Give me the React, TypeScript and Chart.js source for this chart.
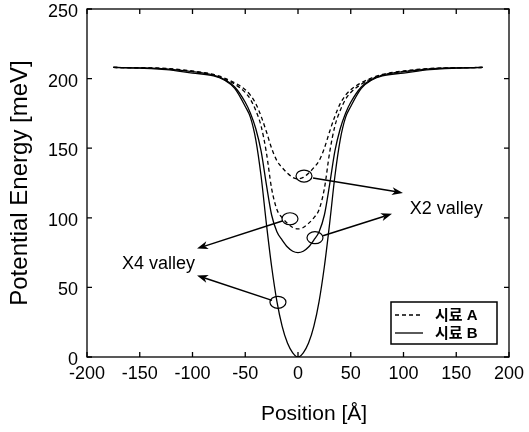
import React, { useEffect, useRef } from "react";
import { Chart, registerables } from "chart.js";

Chart.register(...registerables);

// ---------- data ----------
const positions = [
  -175, -150, -125, -100, -80, -70, -60, -50, -45, -40, -35, -30, -25, -20, -15, -10, -5,
  0,
  5, 10, 15, 20, 25, 30, 35, 40, 45, 50, 60, 70, 80, 100, 125, 150, 175,
];
// 시료 A (dashed)
const sampleA_X2 = [
  208, 207.8, 207.3, 205.5, 203, 200.5, 197, 192, 188, 182, 173, 162, 150, 141, 136, 132, 129,
  128,
  129, 132, 136, 141, 150, 162, 173, 182, 188, 192, 197, 200.5, 203, 205.5, 207.3, 207.8, 208,
];
const sampleA_X4 = [
  208, 207.7, 207, 205, 202.5, 200, 196, 190, 185, 177, 166, 147, 121, 106, 100, 96, 93,
  92,
  93, 96, 100, 106, 121, 147, 166, 177, 185, 190, 196, 200, 202.5, 205, 207, 207.7, 208,
];
// 시료 B (solid)
const sampleB_X2 = [
  208, 207.7, 207, 205, 202.5, 199.5, 194, 183, 175, 164, 148, 124, 102, 90, 84, 79, 76,
  75,
  76, 79, 84, 90, 102, 124, 148, 164, 175, 183, 194, 199.5, 202.5, 205, 207, 207.7, 208,
];
const sampleB_X4 = [
  208, 207.5, 206.5, 204, 202, 199, 193, 180, 172, 156, 130, 96, 65, 40, 22, 10, 3,
  0,
  3, 10, 22, 40, 65, 96, 130, 156, 172, 180, 193, 199, 202, 204, 206.5, 207.5, 208,
];

const xTickValues = [-200, -150, -100, -50, 0, 50, 100, 150, 200];
const yTickValues = [0, 50, 100, 150, 200, 250];
const legendLabels = ["시료 A", "시료 B"];
const xTitle = "Position [Å]";
const yTitle = "Potential Energy [meV]";

// annotation marks (data coordinates)
const ellipses = [
  { x: 5.7, y: 130 },
  { x: -7.6, y: 99.3 },
  { x: 16.1, y: 85.7 },
  { x: -19, y: 39.3 },
];
const arrows = [
  { from: [14.2, 128.6], to: [99.5, 117.9] },
  { from: [23.7, 87.1], to: [89.1, 102.9] },
  { from: [-14.2, 97.9], to: [-95.7, 77.9] },
  { from: [-24.6, 40.7], to: [-95.7, 58.6] },
];
const valleyLabels = [
  { text: "X2 valley", x: 106, y: 106.4 },
  { text: "X4 valley", x: -166.8, y: 67.1 },
];

const FONT = '"Liberation Sans", Arial, Helvetica, sans-serif';

const toPoints = (arr: number[]) => positions.map((p, i) => ({ x: p, y: arr[i] }));

const overlayPlugin = {
  id: "overlay",
  afterDatasetsDraw(chart: any) {
    const { ctx, chartArea: a, scales } = chart;
    const xs = scales.x;
    const ys = scales.y;
    ctx.save();
    ctx.strokeStyle = "#000";
    ctx.fillStyle = "#000";
    ctx.setLineDash([]);

    // frame
    ctx.lineWidth = 1.3;
    ctx.strokeRect(a.left, a.top, a.right - a.left, a.bottom - a.top);

    // inward ticks
    const tl = 5;
    ctx.beginPath();
    xTickValues.forEach((v) => {
      const p = xs.getPixelForValue(v);
      ctx.moveTo(p, a.bottom);
      ctx.lineTo(p, a.bottom - tl);
      ctx.moveTo(p, a.top);
      ctx.lineTo(p, a.top + tl);
    });
    yTickValues.forEach((v) => {
      const p = ys.getPixelForValue(v);
      ctx.moveTo(a.left, p);
      ctx.lineTo(a.left + tl, p);
      ctx.moveTo(a.right, p);
      ctx.lineTo(a.right - tl, p);
    });
    ctx.stroke();

    // ellipses
    ctx.lineWidth = 1.2;
    ellipses.forEach((e) => {
      ctx.beginPath();
      ctx.ellipse(xs.getPixelForValue(e.x), ys.getPixelForValue(e.y), 8, 6, 0, 0, Math.PI * 2);
      ctx.stroke();
    });

    // arrows
    ctx.lineWidth = 1.5;
    arrows.forEach((ar) => {
      const x1 = xs.getPixelForValue(ar.from[0]);
      const y1 = ys.getPixelForValue(ar.from[1]);
      const x2 = xs.getPixelForValue(ar.to[0]);
      const y2 = ys.getPixelForValue(ar.to[1]);
      const ang = Math.atan2(y2 - y1, x2 - x1);
      const hl = 11;
      const hw = 4;
      const bx = x2 - hl * Math.cos(ang);
      const by = y2 - hl * Math.sin(ang);
      ctx.beginPath();
      ctx.moveTo(x1, y1);
      ctx.lineTo(bx + 3 * Math.cos(ang), by + 3 * Math.sin(ang));
      ctx.stroke();
      ctx.beginPath();
      ctx.moveTo(x2, y2);
      ctx.lineTo(bx + hw * Math.sin(ang), by - hw * Math.cos(ang));
      ctx.lineTo(bx + 3 * Math.cos(ang), by + 3 * Math.sin(ang));
      ctx.lineTo(bx - hw * Math.sin(ang), by + hw * Math.cos(ang));
      ctx.closePath();
      ctx.fill();
    });

    // valley labels
    ctx.font = `18px ${FONT}`;
    ctx.textAlign = "left";
    ctx.textBaseline = "middle";
    valleyLabels.forEach((l) => {
      ctx.fillText(l.text, xs.getPixelForValue(l.x), ys.getPixelForValue(l.y));
    });

    // legend
    const bw = 106;
    const bh = 42;
    const bx0 = a.right - 12 - bw;
    const by0 = a.bottom - 13 - bh;
    ctx.lineWidth = 1.5;
    ctx.strokeRect(bx0, by0, bw, bh);
    const rows = [
      { label: legendLabels[0], dash: [4, 3], y: by0 + 13 },
      { label: legendLabels[1], dash: [], y: by0 + 31 },
    ];
    rows.forEach((r) => {
      ctx.lineWidth = 1.3;
      ctx.setLineDash(r.dash);
      ctx.beginPath();
      ctx.moveTo(bx0 + 4, r.y);
      ctx.lineTo(bx0 + 32, r.y);
      ctx.stroke();
      ctx.setLineDash([]);
      ctx.font = `bold 15px ${FONT}, "Noto Sans CJK KR"`;
      ctx.textAlign = "left";
      ctx.textBaseline = "middle";
      ctx.fillText(r.label, bx0 + 44, r.y + 1);
    });

    // x title
    ctx.font = `21px ${FONT}`;
    ctx.textAlign = "center";
    ctx.textBaseline = "middle";
    ctx.fillText(xTitle, (a.left + a.right) / 2 + 16, 414);

    ctx.restore();
  },
};

export default function App() {
  const canvasRef = useRef<HTMLCanvasElement | null>(null);

  useEffect(() => {
    if (!canvasRef.current) return;
    const lineBase = {
      borderColor: "#000",
      borderWidth: 1.3,
      pointRadius: 0,
      fill: false,
      cubicInterpolationMode: "monotone" as const,
    };
    const chart = new Chart(canvasRef.current, {
      type: "line",
      data: {
        datasets: [
          { ...lineBase, label: legendLabels[0] + " X2", data: toPoints(sampleA_X2), borderDash: [4, 3] },
          { ...lineBase, label: legendLabels[0] + " X4", data: toPoints(sampleA_X4), borderDash: [4, 3] },
          { ...lineBase, label: legendLabels[1] + " X2", data: toPoints(sampleB_X2) },
          { ...lineBase, label: legendLabels[1] + " X4", data: toPoints(sampleB_X4) },
        ],
      },
      options: {
        responsive: false,
        animation: false,
        devicePixelRatio: 1,
        layout: { padding: { left: 0, right: 20, top: 9, bottom: 0 } },
        plugins: { legend: { display: false }, tooltip: { enabled: false } },
        scales: {
          x: {
            type: "linear",
            min: -200,
            max: 200,
            afterBuildTicks: (s: any) => {
              s.ticks = xTickValues.map((v) => ({ value: v }));
            },
            ticks: {
              color: "#000",
              font: { family: FONT, size: 18 },
              padding: 6,
              maxRotation: 0,
              autoSkip: false,
            },
            grid: { display: false, drawTicks: false },
            border: { display: false },
            afterFit: (s: any) => {
              s.height = 75;
              s.paddingLeft = 0;
              s.paddingRight = 0;
            },
          },
          y: {
            type: "linear",
            min: 0,
            max: 250,
            afterBuildTicks: (s: any) => {
              s.ticks = yTickValues.map((v) => ({ value: v }));
            },
            ticks: {
              color: "#000",
              font: { family: FONT, size: 18 },
              padding: 9,
              labelOffset: 3,
              autoSkip: false,
            },
            grid: { display: false, drawTicks: false },
            border: { display: false },
            title: {
              display: true,
              text: yTitle,
              color: "#000",
              font: { family: FONT, size: 24 },
              padding: { top: 6, bottom: 0 },
            },
            afterFit: (s: any) => {
              s.width = 87;
              s.paddingTop = 0;
              s.paddingBottom = 0;
            },
          },
        },
      },
      plugins: [overlayPlugin],
    });
    return () => chart.destroy();
  }, []);

  return (
    <div style={{ position: "fixed", left: 0, top: 0, width: 529, height: 432, background: "#fff" }}>
      <canvas ref={canvasRef} width={529} height={432} style={{ display: "block" }} />
    </div>
  );
}
